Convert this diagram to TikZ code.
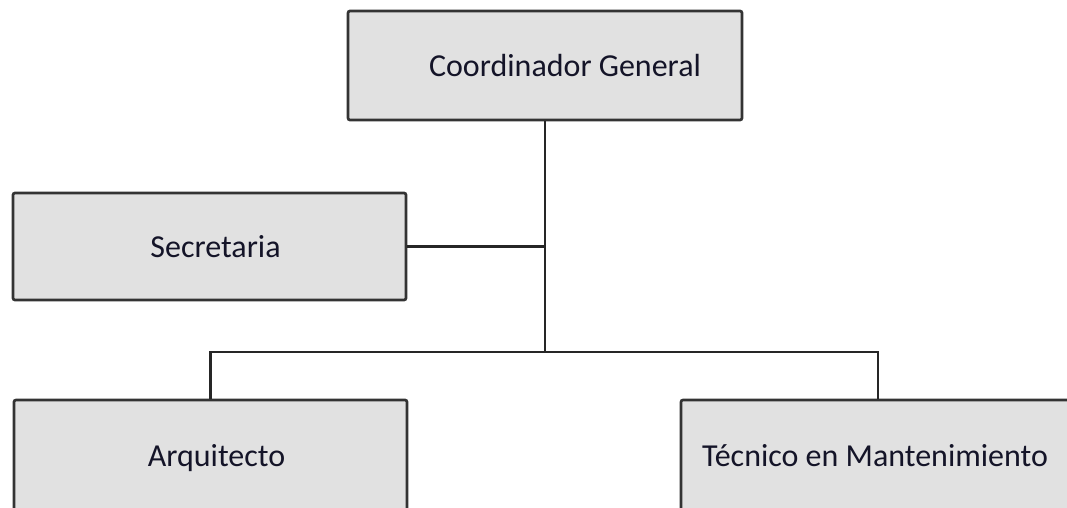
\documentclass[tikz,border=0pt]{standalone}
\usepackage{fontspec}
\setmainfont{Carlito}
\definecolor{boxfill}{HTML}{E1E1E1}
\definecolor{boxdraw}{HTML}{333333}
\definecolor{txt}{HTML}{141428}
\begin{document}
\begin{tikzpicture}[x=1pt,y=-1pt,
  orgbox/.style={draw=boxdraw,fill=boxfill,line width=2.7pt,rounded corners=2pt,
    inner sep=0pt,text=txt,font=\fontsize{32}{38}\selectfont},
  conn/.style={draw=black!85,line width=2.7pt}]
\useasboundingbox (0,0) rectangle (1067,508);
\clip (0,0) rectangle (1067,508);
\node[orgbox,minimum width=394pt,minimum height=109pt] (coord) at (545,65.5) {\hspace*{40pt}Coordinador General};
\node[orgbox,minimum width=393pt,minimum height=107pt] (sec) at (209.5,246.5) {\hspace*{12pt}Secretaria};
\node[orgbox,minimum width=393pt,minimum height=116pt] (arq) at (210.5,458) {\hspace*{12pt}Arquitecto\vphantom{Ag}};
\node[orgbox,minimum width=394pt,minimum height=116pt] (tec) at (878,458) {\hspace*{-6pt}Técnico en Mantenimiento\vphantom{Ag}};
\coordinate (hub) at (545,352);
\draw[conn] (coord.south) -- (hub);
\draw[conn] (sec.east) -- (sec.east -| coord.south);
\draw[conn] (arq.north) |- (hub) -| (tec.north);
\end{tikzpicture}
\end{document}
